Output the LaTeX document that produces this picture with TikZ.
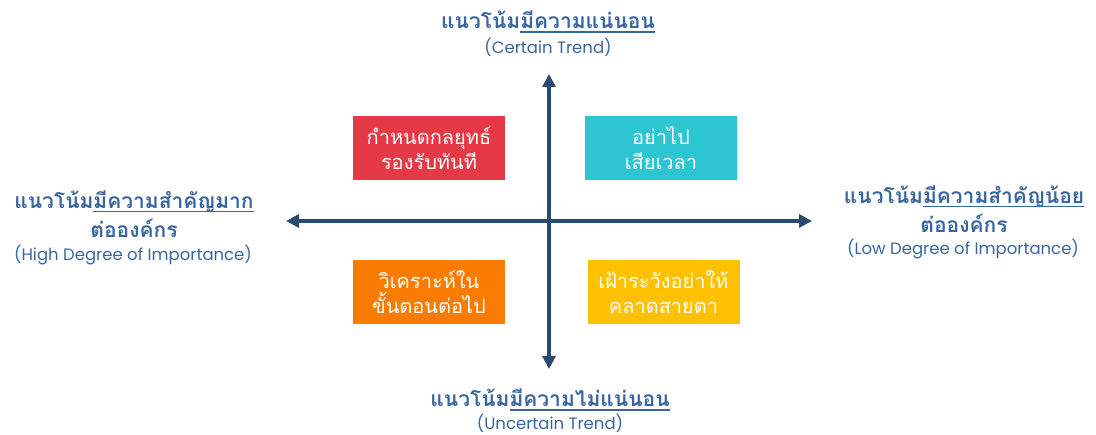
\documentclass[tikz,border=0pt]{standalone}
\usepackage{fontspec}
\setmainfont[Script=Thai]{Loma}
\newfontfamily\enfont{Poppins}
\usetikzlibrary{arrows.meta}
\definecolor{axisblue}{HTML}{2B4A70}
\definecolor{labelblue}{HTML}{3A66A0}
\definecolor{qred}{HTML}{E63946}
\definecolor{qcyan}{HTML}{2EC5D3}
\definecolor{qorange}{HTML}{F97B00}
\definecolor{qyellow}{HTML}{FFC000}
\tikzset{
  axis/.style={draw=axisblue, line width=4.5pt, -{Triangle[length=13pt,width=13pt]}},
  quad/.style={minimum width=152pt, minimum height=64pt, inner sep=0pt, text=white, align=center, font=\fontsize{20}{25}\selectfont},
  lbl/.style={text=labelblue, align=center, inner sep=0pt},
  thaibig/.style={font=\bfseries\fontsize{21}{29}\selectfont},
}
\newcommand{\subl}[1]{{\enfont\fontsize{16.5}{20}\selectfont #1}}
\newcommand{\uln}[1]{\setbox0\hbox{#1}\rlap{\raisebox{-4pt}{\rule{\wd0}{1.4pt}}}\box0}
\begin{document}
\begin{tikzpicture}[x=1pt,y=-1pt]
\useasboundingbox (0,0) rectangle (1096,435);
% axes
\coordinate (L) at (286,221);
\coordinate (R) at (812,221);
\coordinate (T) at (549,74);
\coordinate (B) at (549,369);
\draw[axis] (549,221) -- (L);
\draw[axis] (549,221) -- (R);
\draw[axis] (549,221) -- (T);
\draw[axis] (549,221) -- (B);
% quadrants
\node[quad, fill=qred] (q1) at (429,148.5) {กำหนดกลยุทธ์\\รองรับทันที};
\node[quad, fill=qcyan] (q2) at (661,148.5) {อย่าไป\\เสียเวลา};
\node[quad, fill=qorange] (q3) at (429,292) {วิเคราะห์ใน\\ขั้นตอนต่อไป};
\node[quad, fill=qyellow] (q4) at (663.5,292) {เฝ้าระวังอย่าให้\\คลาดสายตา};
% labels
\node[lbl, thaibig] (top) at (548,22) {แนวโน้ม\uln{มีความแน่นอน}};
\node[lbl] (topen) at (548,47) {\subl{(Certain Trend)}};
\node[lbl, thaibig] (bot) at (550,400) {แนวโน้ม\uln{มีความไม่แน่นอน}};
\node[lbl] (boten) at (550,423) {\subl{(Uncertain Trend)}};
\node[lbl, thaibig] (left) at (134,214) {แนวโน้ม\uln{มีความสำคัญมาก}\\ต่อองค์กร};
\node[lbl] (leften) at (133,255) {\subl{(High Degree of Importance)}};
\node[lbl, thaibig] (right) at (964,209) {แนวโน้ม\uln{มีความสำคัญน้อย}\\ต่อองค์กร};
\node[lbl] (righten) at (963,249) {\subl{(Low Degree of Importance)}};
\end{tikzpicture}
\end{document}
